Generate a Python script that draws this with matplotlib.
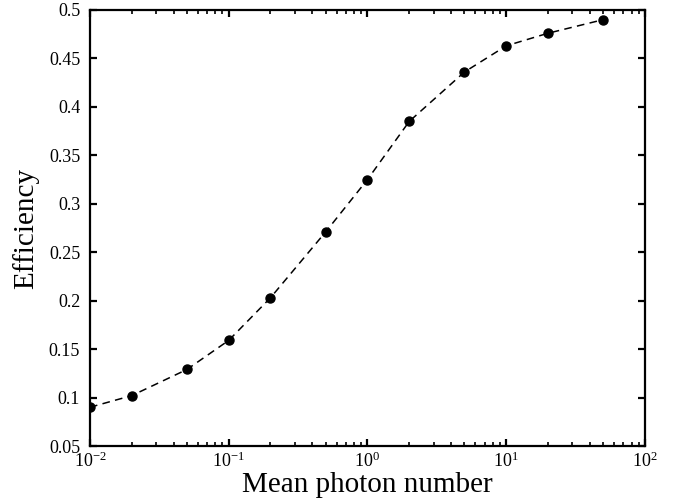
import matplotlib
matplotlib.use("Agg")
import matplotlib.pyplot as plt
from matplotlib.ticker import LogLocator, FixedLocator, FuncFormatter

photon_number = [0.01, 0.02, 0.05, 0.1, 0.2, 0.5, 1, 2, 5, 10, 20, 50]
efficiency = [0.090, 0.102, 0.129, 0.159, 0.203, 0.271, 0.325, 0.385, 0.436, 0.463, 0.476, 0.490]
y_ticks = [0.05, 0.1, 0.15, 0.2, 0.25, 0.3, 0.35, 0.4, 0.45, 0.5]
y_tick_labels = ["0.05", "0.1", "0.15", "0.2", "0.25", "0.3", "0.35", "0.4", "0.45", "0.5"]

plt.rcParams['font.family'] = ['Liberation Serif', 'DejaVu Serif']
plt.rcParams['mathtext.fontset'] = 'custom'
plt.rcParams['mathtext.rm'] = 'Liberation Serif'
plt.rcParams['mathtext.it'] = 'Liberation Serif:italic'
plt.rcParams['axes.unicode_minus'] = False

fig = plt.figure(figsize=(6.78, 4.99), dpi=100)
ax = fig.add_axes([0.1327, 0.1062, 0.8186, 0.8738])

ax.plot(photon_number, efficiency, linestyle=(0, (5, 3.5)), color='black', linewidth=1.1,
        marker='o', markersize=6.5, markerfacecolor='black', markeredgecolor='black')

ax.set_xscale('log')
ax.set_xlim(1e-2, 1e2)
ax.set_ylim(0.05, 0.5)
ax.yaxis.set_major_locator(FixedLocator(y_ticks))
ax.set_yticklabels(y_tick_labels)
ax.xaxis.set_major_locator(LogLocator(base=10, numticks=10))
ax.xaxis.set_minor_locator(LogLocator(base=10, subs=range(2, 10), numticks=20))

def fmt(v, pos):
    import math
    e = int(round(math.log10(v)))
    return r"$\mathregular{10^{%d}}$" % e
ax.xaxis.set_major_formatter(FuncFormatter(fmt))

for s in ax.spines.values():
    s.set_linewidth(1.6)

ax.tick_params(which='both', direction='in', top=True, right=True, labelsize=13)
ax.tick_params(axis='y', pad=7)
ax.tick_params(axis='x', pad=4)
ax.tick_params(which='major', length=5, width=1.6)
ax.tick_params(which='minor', length=3, width=1.2)

ax.set_xlabel("Mean photon number", fontsize=21, labelpad=0.5)
ax.set_ylabel("Efficiency", fontsize=21, labelpad=7)

fig.savefig("out.png", dpi=100)
